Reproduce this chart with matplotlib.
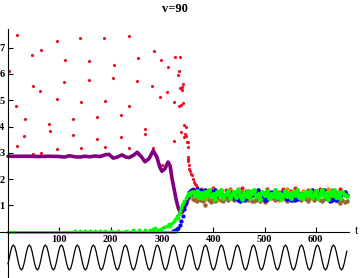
import numpy as np
import matplotlib
matplotlib.use('Agg')
from matplotlib import pyplot as plt

# --------------------------------------------------------------------------- #
# data

# red: stroboscopic samples before the transition, then the drop into the band
red_t = [2, 18, 16, 18, 34, 31, 47, 49, 49, 64, 62, 65, 79, 81, 95, 96, 96,
         112, 109, 111, 127, 127, 140, 143, 143, 158, 157, 174, 174, 188, 190, 190,
         207, 205, 221, 221, 235, 236, 236, 254, 252, 252, 268, 268, 285, 281, 283,
         298, 297, 300, 312, 310, 325, 324, 324, 336, 334, 332, 335, 334, 337, 337,
         342, 339, 340, 342, 344, 346, 345, 347, 344, 350, 350, 351,
         348, 350, 351, 352, 353, 355, 356, 358, 360, 362, 364, 366, 368, 372]
red_v = [6.10, 7.50, 4.78, 3.26, 4.27, 3.64, 6.72, 5.54, 2.95, 6.91, 5.35, 2.98, 4.08, 3.82, 7.25, 5.05, 3.13,
         6.53, 5.68, 2.89, 4.27, 3.68, 7.35, 4.92, 3.17, 6.49, 5.76, 4.35, 3.51, 7.35, 4.97, 3.21,
         6.34, 5.83, 4.44, 3.59, 7.44, 4.78, 3.17, 6.59, 5.73, 3.00, 3.90, 3.71, 6.87, 5.54, 3.17,
         6.55, 5.11, 2.54, 6.25, 5.30, 6.65, 4.92, 3.45, 6.63, 6.11, 5.96, 5.48, 4.77, 3.78, 4.82,
         5.60, 5.51, 5.39, 4.88, 4.06, 3.99, 3.70, 3.64, 3.61, 3.40, 3.21, 2.75,
         3.42, 2.85, 2.70, 2.55, 2.40, 2.30, 2.20, 2.15, 2.00, 1.90, 1.80, 1.77, 1.70, 1.62]

# purple: smooth branch that loses stability around t=330
purple_t = [0, 20, 40, 60, 80, 100, 110, 120, 130, 140, 150, 160, 170, 180, 190, 197,
            205, 212, 222, 230, 236, 244, 252, 260, 267, 275, 283, 290, 296, 300, 306,
            312, 316, 320, 324, 328, 332, 336, 340, 345, 350, 355, 360]
purple_v = [2.87, 2.87, 2.87, 2.86, 2.87, 2.86, 2.84, 2.89, 2.85, 2.84, 2.87, 2.85, 2.88, 2.86, 2.93, 2.94,
            2.80, 2.83, 2.92, 2.84, 2.82, 2.90, 3.02, 2.85, 2.66, 2.78, 3.08, 2.85, 2.45, 2.30, 2.40,
            2.65, 2.50, 2.00, 1.60, 1.20, 0.90, 0.72, 0.75, 0.95, 1.20, 1.35, 1.40]

# flat branch at zero shared by green/blue/brown/orange
flat_t = [0, 325]
flat_v = [0, 0]

# green rise (single dots)
green_rise_t = [130, 140, 150, 160, 170, 180, 190, 200, 215, 230, 244, 255, 267, 276, 282, 286,
                292, 299, 304, 309, 313, 316, 320, 323, 326, 329, 332, 334, 336, 338, 340,
                342, 344, 346, 348, 350, 352, 354, 356]
green_rise_v = [0.03, 0.03, 0.03, 0.03, 0.04, 0.03, 0.04, 0.03, 0.04, 0.04, 0.05, 0.05, 0.08, 0.06, 0.10, 0.15,
                0.08, 0.12, 0.18, 0.22, 0.28, 0.20, 0.32, 0.42, 0.48, 0.58, 0.52, 0.68, 0.80, 0.90, 1.00,
                1.10, 1.18, 1.28, 1.35, 1.42, 1.48, 1.40, 1.52]

blue_rise_t = [322, 326, 329, 332, 335, 338, 341, 344, 347, 350, 353, 356]
blue_rise_v = [0.04, 0.07, 0.10, 0.16, 0.26, 0.40, 0.58, 0.85, 1.10, 1.32, 1.50, 1.58]

# noisy band after the transition, one sample every 4 (8 for red/orange)
band_t = np.arange(360, 661, 4)
band_t8 = np.arange(360, 661, 8)

green_band = [1.50, 1.38, 1.55, 1.32, 1.47, 1.28, 1.52, 1.40, 1.58, 1.35,
              1.45, 1.25, 1.50, 1.38, 1.60, 1.30, 1.44, 1.55, 1.27, 1.42,
              1.50, 1.33, 1.57, 1.40, 1.24, 1.48, 1.36, 1.53, 1.30, 1.46,
              1.58, 1.34, 1.43, 1.26, 1.51, 1.39, 1.55, 1.29, 1.45, 1.37,
              1.60, 1.32, 1.48, 1.25, 1.41, 1.54, 1.35, 1.47, 1.28, 1.52,
              1.40, 1.58, 1.33, 1.45, 1.27, 1.50, 1.38, 1.56, 1.31, 1.44,
              1.53, 1.29, 1.42, 1.60, 1.36, 1.48, 1.25, 1.50, 1.39, 1.57,
              1.32, 1.46, 1.28, 1.52, 1.40, 1.35]
blue_band = [1.58, 1.55, 1.62, 1.50, 1.57, 1.45, 1.60, 1.52, 1.40, 1.56,
             1.48, 1.58, 1.35, 1.52, 1.42, 1.30, 1.45, 1.38, 1.50, 1.33,
             1.28, 1.40, 1.22, 1.18, 1.25, 1.20, 1.30, 1.42, 1.35, 1.48,
             1.40, 1.55, 1.60, 1.45, 1.30, 1.22, 1.26, 1.38, 1.50, 1.42,
             1.35, 1.45, 1.30, 1.40, 1.52, 1.38, 1.25, 1.30, 1.22, 1.28,
             1.20, 1.26, 1.35, 1.42, 1.30, 1.48, 1.40, 1.55, 1.60, 1.50,
             1.56, 1.48, 1.52, 1.45, 1.58, 1.40, 1.25, 1.18, 1.22, 1.30,
             1.20, 1.28, 1.35, 1.45, 1.52, 1.40]
brown_band = [1.25, 1.20, 1.15, 1.30, 1.22, 1.18, 1.02, 1.35, 1.20, 1.12,
              1.25, 1.18, 1.30, 1.40, 1.22, 1.15, 1.28, 1.20, 1.45, 1.30,
              1.22, 1.35, 1.42, 1.28, 1.50, 1.38, 1.25, 1.20, 1.32, 1.18,
              1.15, 1.22, 1.30, 1.18, 1.25, 1.12, 1.20, 1.35, 1.45, 1.28,
              1.22, 1.30, 1.40, 1.50, 1.35, 1.25, 1.18, 1.42, 1.30, 1.22,
              1.35, 1.45, 1.28, 1.20, 1.32, 1.25, 1.18, 1.30, 1.40, 1.22,
              1.28, 1.35, 1.20, 1.15, 1.25, 1.32, 1.42, 1.30, 1.22, 1.35,
              1.20, 1.15, 1.10, 1.22, 1.12, 1.18]
orange_band = [1.55, 1.30, 1.62, 1.25, 1.45, 1.60, 1.20, 1.50, 1.35, 1.58,
               1.28, 1.62, 1.40, 1.22, 1.55, 1.35, 1.60, 1.25, 1.48, 1.30,
               1.58, 1.20, 1.45, 1.62, 1.32, 1.50, 1.25, 1.55, 1.40, 1.60,
               1.28, 1.52, 1.35, 1.62, 1.22, 1.45, 1.30, 1.50]
red_band = [1.62, 1.55, 1.48, 1.60, 1.40, 1.65, 1.52, 1.45, 1.58, 1.62,
            1.50, 1.42, 1.66, 1.55, 1.48, 1.60, 1.38, 1.52, 1.64, 1.45,
            1.58, 1.50, 1.62, 1.42, 1.55, 1.68, 1.48, 1.40, 1.60, 1.52,
            1.45, 1.62, 1.55, 1.38, 1.58, 1.50, 1.64, 1.45]

# drive signal drawn under the axis: one period, 12 samples, 31.2 time units long
drive_period = 31.2
drive_shape = [-0.5, 0, 0.5, 0.87, 1, 0.87, 0.5, 0, -0.5, -0.87, -1, -0.87]
drive_v = (drive_shape * 22)[:255]
drive_t = np.arange(len(drive_v)) * drive_period / 12

# --------------------------------------------------------------------------- #

SERIF = ['Liberation Serif', 'DejaVu Serif']
RED, PURPLE, GREEN, BLUE = '#f0102a', '#800080', '#00ff00', '#0000ff'
BROWN, ORANGE = '#996633', '#ff8000'

fig = plt.figure(figsize=(3.6, 2.78), dpi=100)
ax = fig.add_axes([0, 0, 349 / 360, 249 / 278])
ax.set_xlim(-15.6, 664.7)
ax.set_ylim(-1.76, 7.71)

dot = dict(ls='none', marker='o', mec='none')
ax.plot(red_t, red_v, color=RED, ms=2.3, **dot)
ax.plot(band_t8, red_band, color=RED, ms=3, **dot)
ax.plot(purple_t, purple_v, color=PURPLE, lw=2.6, solid_capstyle='round')
ax.plot(band_t8, orange_band, color=ORANGE, ms=3.2, **dot)
ax.plot(band_t, brown_band, color=BROWN, ms=3.2, **dot)
ax.plot(blue_rise_t, blue_rise_v, color=BLUE, ms=3, **dot)
ax.plot(band_t, blue_band, color=BLUE, lw=1.2, marker='o', ms=3.2, mec='none')
ax.plot(flat_t, flat_v, color=GREEN, lw=2.2)
ax.plot(green_rise_t, green_rise_v, color=GREEN, ms=2.8, **dot)
ax.plot(band_t, green_band, color=GREEN, lw=1.6, marker='o', ms=3.6, mec='none')

# drive, placed under the time axis
ax.plot(drive_t, -0.98 + 0.475 * np.array(drive_v), color='black', lw=0.9)

for s in ['top', 'right']:
    ax.spines[s].set_visible(False)
ax.spines['left'].set_position(('data', 0))
ax.spines['bottom'].set_position(('data', 0))
for s in ['left', 'bottom']:
    ax.spines[s].set_linewidth(0.8)
ax.set_xticks([100, 200, 300, 400, 500, 600])
ax.set_yticks([1, 2, 3, 4, 5, 6, 7])
ax.tick_params(direction='in', length=3.5, width=0.8, labelsize=7.5)
ax.tick_params(axis='y', pad=2.5)
ax.tick_params(axis='x', pad=2)
for lab in ax.get_xticklabels() + ax.get_yticklabels():
    lab.set_family(SERIF)
    lab.set_fontweight('bold')
ax.patch.set_alpha(0)

fig.text(356.7 / 360, 1 - 231 / 278, 't', ha='center', va='center',
         fontsize=8.5, family=SERIF)
fig.text(175 / 360, 1 - 9.5 / 278, 'v=90', ha='center', va='center',
         fontsize=9, family=SERIF, fontweight='bold')

plt.savefig('out.png', dpi=100)
